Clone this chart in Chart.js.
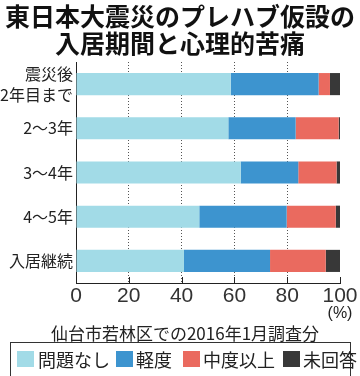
<!DOCTYPE html>
<html>
<head>
<meta charset="utf-8">
<script src="https://cdn.jsdelivr.net/npm/chart.js@4.4.1/dist/chart.umd.min.js"></script>
<style>
  html, body { margin: 0; padding: 0; background: #fff; }
  #wrap { position: relative; width: 360px; height: 376px; overflow: hidden; font-family: "Noto Sans CJK JP", "Noto Sans", sans-serif; color: #222; }
  #c { position: absolute; left: 0; top: 0; }
  #title { position: absolute; left: 0; top: 2px; width: 360px; text-align: center; font-weight: bold; font-size: 25px; line-height: 27px; color: #111; letter-spacing: 0px; white-space: nowrap; }
  #unit { position: absolute; left: 320px; width: 40px; top: 303px; text-align: center; font-family: "Liberation Sans", sans-serif; font-size: 16px; line-height: 20px; }
  #note { position: absolute; left: 0; width: 370px; top: 322px; text-align: center; font-size: 17px; line-height: 22px; white-space: nowrap; }
  #legend { position: absolute; left: 10px; top: 342px; width: 341px; height: 40px; border: 1px solid #333; box-sizing: border-box; }
  .sw { position: absolute; top: 8px; width: 17px; height: 16px; }
  .lt { position: absolute; top: 4px; font-size: 18px; line-height: 24px; white-space: nowrap; }
</style>
</head>
<body>
<div id="wrap">
  <canvas id="c" width="360" height="376"></canvas>
  <div id="title">東日本大震災のプレハブ仮設の<br>入居期間と心理的苦痛</div>
  <div id="unit">(%)</div>
  <div id="note">仙台市若林区での2016年1月調査分</div>
  <div id="legend"></div>
</div>
<script>
const categories = [['震災後', '2年目まで'], '2～3年', '3～4年', '4～5年', '入居継続'];
const seriesNames = ['問題なし', '軽度', '中度以上', '未回答'];
const noProblem = [58.6, 57.7, 62.4, 46.7, 40.9];
const mild      = [33.3, 25.5, 21.8, 33.1, 32.6];
const moderate  = [4.3, 16.3, 14.5, 18.6, 21.1];
const noAnswer  = [3.8, 0.5, 1.3, 1.6, 5.4];
const xTicks = [0, 20, 40, 60, 80, 100];
const colors = ['#a2dbe7', '#3d94cf', '#ea6a5f', '#383838'];

const legend = document.getElementById('legend');
const swLeft = [6, 105, 172, 272];
const txLeft = [27, 125, 192, 292];
seriesNames.forEach((n, i) => {
  const s = document.createElement('div');
  s.className = 'sw'; s.style.left = swLeft[i] + 'px'; s.style.background = colors[i];
  legend.appendChild(s);
  const t = document.createElement('div');
  t.className = 'lt'; t.style.left = txLeft[i] + 'px'; t.textContent = n;
  legend.appendChild(t);
});

const innerTicks = {
  id: 'innerTicks',
  afterDatasetsDraw(chart) {
    const ctx = chart.ctx, xs = chart.scales.x, b = chart.chartArea.bottom;
    ctx.save();
    ctx.strokeStyle = '#222';
    ctx.lineWidth = 1;
    xTicks.forEach(v => {
      const x = Math.round(xs.getPixelForValue(v)) + 0.5;
      ctx.beginPath();
      ctx.moveTo(x, b - 6);
      ctx.lineTo(x, b);
      ctx.stroke();
    });
    ctx.restore();
  }
};

const data = [noProblem, mild, moderate, noAnswer];
new Chart(document.getElementById('c'), {
  type: 'bar',
  data: {
    labels: categories,
    datasets: data.map((d, i) => ({
      label: seriesNames[i],
      data: d,
      backgroundColor: colors[i],
      borderWidth: 0,
      barPercentage: 0.5,
      categoryPercentage: 1.0
    }))
  },
  options: {
    indexAxis: 'y',
    responsive: false,
    animation: false,
    layout: { padding: { top: 62, left: 0, right: 20, bottom: 63 } },
    plugins: { legend: { display: false }, tooltip: { enabled: false }, title: { display: false } },
    scales: {
      x: {
        stacked: true,
        min: 0, max: 100,
        afterBuildTicks(scale) { scale.ticks = xTicks.map(v => ({ value: v })); },
        afterFit(scale) { scale.height = 30; scale.paddingLeft = 0; scale.paddingRight = 0; },
        grid: {
          drawTicks: false,
          color: ctx => (ctx.tick && (ctx.tick.value === 0 || ctx.tick.value === 100)) ? 'rgba(0,0,0,0)' : '#555',
          lineWidth: 1
        },
        border: { display: true, color: '#222', width: 1, dash: [1, 2] },
        ticks: {
          padding: 1,
          color: '#333',
          font: { family: '"Liberation Sans", sans-serif', size: 21 },
          maxRotation: 0,
          autoSkip: false
        }
      },
      y: {
        stacked: true,
        afterFit(scale) { scale.width = 76; },
        grid: { display: false, drawTicks: false },
        border: { display: true, color: '#222', width: 1 },
        ticks: {
          padding: 3,
          color: '#222',
          font: { family: '"Noto Sans CJK JP", sans-serif', size: 16, lineHeight: 1.3 },
          autoSkip: false
        }
      }
    }
  },
  plugins: [innerTicks]
});
</script>
</body>
</html>
